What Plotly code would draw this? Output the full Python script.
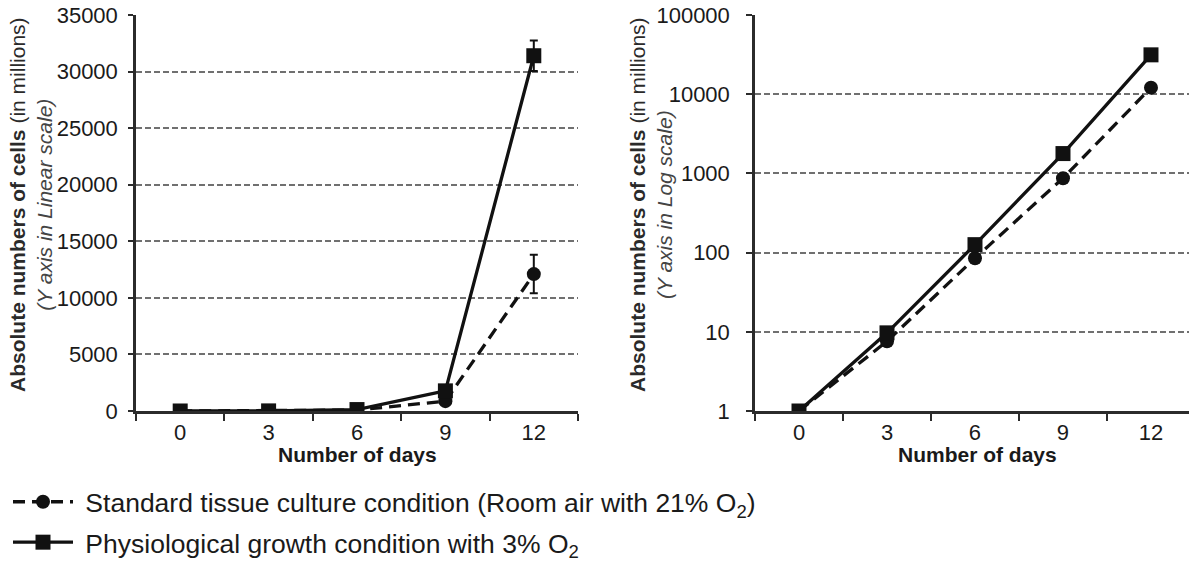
import plotly.graph_objects as go

days = ["0", "3", "6", "9", "12"]
standard = [1, 7.6, 85, 870, 12100]
physio = [1, 9.7, 126, 1780, 31400]
standard_err = [0, 0, 0, 0, 1700]
physio_err = [0, 0, 0, 0, 1350]

lin_ticks = [0, 5000, 10000, 15000, 20000, 25000, 30000, 35000]
log_ticks = [1, 10, 100, 1000, 10000, 100000]

name_std = "\u00a0Standard tissue culture condition (Room air with 21% O<sub>2</sub>)"
name_phy = "\u00a0Physiological growth condition with 3% O<sub>2</sub>"

FONT = "Liberation Sans, Arial, sans-serif"
BLACK = "#111111"

fig = go.Figure()

def add_pair(xa, ya, with_err, show):
    fig.add_trace(go.Scatter(
        x=days, y=standard, xaxis=xa, yaxis=ya, mode="lines+markers",
        name=name_std, showlegend=show, legendrank=1, legendgroup="std",
        line=dict(color=BLACK, width=3.3, dash="12px,7px"),
        marker=dict(symbol="circle", size=14, color=BLACK),
        error_y=dict(type="data", array=standard_err, visible=with_err,
                     color=BLACK, thickness=2, width=4),
    ))
    fig.add_trace(go.Scatter(
        x=days, y=physio, xaxis=xa, yaxis=ya, mode="lines+markers",
        name=name_phy, showlegend=show, legendrank=2, legendgroup="phy",
        line=dict(color=BLACK, width=3.3),
        marker=dict(symbol="square", size=15, color=BLACK),
        error_y=dict(type="data", array=physio_err, visible=with_err,
                     color=BLACK, thickness=2, width=4),
    ))

add_pair("x", "y", True, True)
add_pair("x2", "y2", False, False)

ydom = [1 - 411 / 561, 1 - 15 / 561]
axis_common = dict(showline=True, linecolor="#2b2b2b", linewidth=2.5,
                   tickfont=dict(family=FONT, size=22, color="#1a1a1a"),
                   ticks="outside", tickcolor="#2b2b2b", tickwidth=1.5,
                   zeroline=False, automargin=False)
grid = dict(showgrid=True, gridcolor="#707070", gridwidth=1.7, griddash="6px,3px")

fig.update_layout(
    width=1189, height=561,
    margin=dict(l=0, r=0, t=0, b=0, autoexpand=False),
    paper_bgcolor="white", plot_bgcolor="white",
    font=dict(family=FONT, color="#1a1a1a"),
    xaxis=dict(domain=[136 / 1189, 578 / 1189], type="category",
               range=[-0.5, 4.5], tickson="boundaries", ticklen=7,
               showgrid=False, anchor="y", **axis_common),
    yaxis=dict(domain=ydom, range=[0, 35000], tickvals=lin_ticks,
               ticktext=[str(v) for v in lin_ticks], ticklen=5,
               anchor="x", ticklabelstandoff=6, **grid, **axis_common),
    xaxis2=dict(domain=[755 / 1189, 1.0], type="category",
                range=[-0.5, 4.432], tickson="boundaries", ticklen=7,
                showgrid=False, anchor="y2", **axis_common),
    yaxis2=dict(domain=ydom, type="log", range=[0, 5], tickvals=log_ticks,
                ticktext=[str(v) for v in log_ticks], ticklen=6,
                anchor="x2", ticklabelstandoff=12, **grid, **axis_common),
    legend=dict(x=8 / 1189, y=1 - 478 / 561, xanchor="left", yanchor="top",
                orientation="v", bgcolor="rgba(0,0,0,0)",
                font=dict(family=FONT, size=26.5, color="#1a1a1a"),
                itemwidth=60, tracegroupgap=3),
)

title_font = dict(family=FONT, size=21, color="#1a1a1a")
for cx in [(136 + 578) / 2 / 1189, (755 + 1199) / 2 / 1189]:
    fig.add_annotation(text="<b>Number of days</b>", xref="paper", yref="paper",
                       x=cx, y=1 - 454 / 561, xanchor="center", yanchor="middle",
                       showarrow=False, font=title_font)

def ytitle(cx, scale):
    fig.add_annotation(
        text="<b>Absolute numbers of cells</b> (in millions)<br>"
             f"<span style='color:#444444'><i>(Y axis in {scale} scale)</i></span>",
        xref="paper", yref="paper", x=cx, y=1 - 205 / 561,
        xanchor="center", yanchor="middle", textangle=-90, showarrow=False,
        font=dict(family=FONT, size=21, color="#2a2a2a"))

ytitle(31 / 1189, "Linear")
ytitle(651 / 1189, "Log")

fig.write_html("out.html")
